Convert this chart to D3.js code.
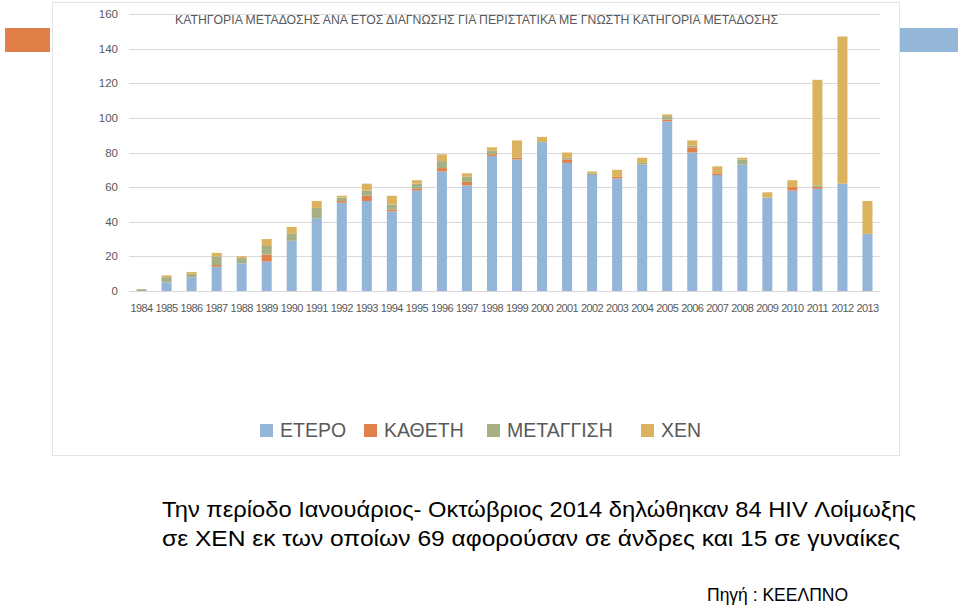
<!DOCTYPE html>
<meta charset="utf-8">
<head>
  <title>Κατηγορία μετάδοσης ανά έτος διάγνωσης</title>
  <style>
    body { margin: 0; background: #fff; }
    text { font-family: "Liberation Sans", Arial, sans-serif; }
  </style>
</head>
<body>
<script src="https://cdnjs.cloudflare.com/ajax/libs/d3/7.8.5/d3.min.js"></script>
<div id="chart"></div>
<script>

  var years = ['1984','1985','1986','1987','1988','1989','1990','1991','1992','1993',
               '1994','1995','1996','1997','1998','1999','2000','2001','2002','2003',
               '2004','2005','2006','2007','2008','2009','2010','2011','2012','2013'];

  var series = ['ΕΤΕΡΟ', 'ΚΑΘΕΤΗ', 'ΜΕΤΑΓΓΙΣΗ', 'ΧΕΝ'];

  var etero     = [0, 5, 8, 14, 16, 17, 29, 42, 51, 52, 46, 58, 69, 61, 78, 76, 86, 74, 67, 65, 73, 98, 80, 67, 73, 54, 58, 59, 62, 33];
  var katheti   = [0, 0, 0, 1, 0, 4, 0, 0, 1, 3, 1, 1, 2, 2, 1, 1, 0, 2, 0, 1, 0, 1, 3, 1, 0, 0, 2, 1, 0, 0];
  var metaggisi = [1, 3, 2, 5, 3, 5, 4, 6, 2, 3, 3, 3, 4, 3, 2, 0, 0, 1, 1, 0, 1, 2, 1, 0, 3, 0, 0, 1, 0, 0];
  var xen       = [0, 1, 1, 2, 1, 4, 4, 4, 1, 4, 5, 2, 4, 2, 2, 10, 3, 3, 1, 4, 3, 1, 3, 4, 1, 3, 4, 61, 85, 19];

  var yTicks = [0, 20, 40, 60, 80, 100, 120, 140, 160];

  var colors = ['#92b5d8', '#e0804a', '#a5b085', '#dbb35e'];

  var width = 960, height = 607;

  var rows = years.map(function(y, i) {
    return { year: y, 'ΕΤΕΡΟ': etero[i], 'ΚΑΘΕΤΗ': katheti[i], 'ΜΕΤΑΓΓΙΣΗ': metaggisi[i], 'ΧΕΝ': xen[i] };
  });

  var svg = d3.select('#chart').append('svg')
    .attr('width', width)
    .attr('height', height);

  // slide decorations
  svg.append('rect').attr('x', 5).attr('y', 28).attr('width', 45).attr('height', 24).attr('fill', '#e07e47');
  svg.append('rect').attr('x', 900).attr('y', 28).attr('width', 58).attr('height', 24).attr('fill', '#94b6d8');

  // chart frame
  svg.append('rect')
    .attr('x', 52.5).attr('y', 2.5)
    .attr('width', 847).attr('height', 453)
    .attr('fill', '#fff')
    .attr('stroke', '#e3e3e3');

  var x = d3.scaleBand()
    .domain(years)
    .range([129, 880])
    .paddingInner(0.6)
    .paddingOuter(0.3);

  var y = d3.scaleLinear()
    .domain([0, 160])
    .range([291, 14]);

  // gridlines
  svg.append('g').selectAll('line')
    .data(yTicks)
    .enter().append('line')
    .attr('x1', 129).attr('x2', 880)
    .attr('y1', function(d) { return Math.round(y(d)) + 0.5; })
    .attr('y2', function(d) { return Math.round(y(d)) + 0.5; })
    .attr('stroke', '#d9d9d9')
    .attr('stroke-width', 1);

  svg.append('g').selectAll('text')
    .data(yTicks)
    .enter().append('text')
    .attr('x', 118)
    .attr('y', function(d) { return y(d) + 4; })
    .attr('text-anchor', 'end')
    .attr('font-size', 11.5)
    .attr('fill', '#595959')
    .text(function(d) { return d; });

  var stack = d3.stack().keys(series);
  var layers = stack(rows);

  svg.append('g').selectAll('g')
    .data(layers)
    .enter().append('g')
    .attr('fill', function(d, i) { return colors[i]; })
    .selectAll('rect')
    .data(function(d) { return d; })
    .enter().append('rect')
    .attr('x', function(d) { return x(d.data.year); })
    .attr('width', x.bandwidth())
    .attr('y', function(d) { return y(d[1]); })
    .attr('height', function(d) { return y(d[0]) - y(d[1]); });

  // x labels
  svg.append('g').selectAll('text')
    .data(years)
    .enter().append('text')
    .attr('x', function(d) { return x(d) + x.bandwidth() / 2; })
    .attr('y', 312)
    .attr('text-anchor', 'middle')
    .attr('font-size', 11)
    .attr('letter-spacing', -0.6)
    .attr('fill', '#595959')
    .text(function(d) { return d; });

  // title
  svg.append('text')
    .attr('x', 175).attr('y', 24)
    .attr('font-size', 13)
    .attr('fill', '#595959')
    .attr('textLength', 603)
    .attr('lengthAdjust', 'spacingAndGlyphs')
    .text('ΚΑΤΗΓΟΡΙΑ ΜΕΤΑΔΟΣΗΣ ΑΝΑ ΕΤΟΣ ΔΙΑΓΝΩΣΗΣ ΓΙΑ ΠΕΡΙΣΤΑΤΙΚΑ ΜΕ ΓΝΩΣΤΗ ΚΑΤΗΓΟΡΙΑ ΜΕΤΑΔΟΣΗΣ');

  // legend
  var legendX = [260, 364, 487, 641];
  var legend = svg.append('g').selectAll('g')
    .data(series)
    .enter().append('g')
    .attr('transform', function(d, i) { return 'translate(' + legendX[i] + ',424)'; });
  legend.append('rect')
    .attr('width', 13).attr('height', 13)
    .attr('fill', function(d, i) { return colors[i]; });
  legend.append('text')
    .attr('x', 20).attr('y', 13)
    .attr('font-size', 19.5)
    .attr('fill', '#595959')
    .text(function(d) { return d; });

  // notes below the chart
  svg.append('text')
    .attr('x', 162).attr('y', 517)
    .attr('font-size', 22)
    .attr('fill', '#000')
    .attr('textLength', 754)
    .attr('lengthAdjust', 'spacingAndGlyphs')
    .text('Την περίοδο Ιανουάριος- Οκτώβριος 2014 δηλώθηκαν 84 HIV Λοίμωξης');
  svg.append('text')
    .attr('x', 162).attr('y', 546)
    .attr('font-size', 22)
    .attr('fill', '#000')
    .attr('textLength', 738)
    .attr('lengthAdjust', 'spacingAndGlyphs')
    .text('σε ΧΕΝ εκ των οποίων 69 αφορούσαν σε άνδρες και 15 σε γυναίκες');
  svg.append('text')
    .attr('x', 707).attr('y', 601)
    .attr('font-size', 17.5)
    .attr('fill', '#000')
    .text('Πηγή : ΚΕΕΛΠΝΟ');
</script>
</body>
